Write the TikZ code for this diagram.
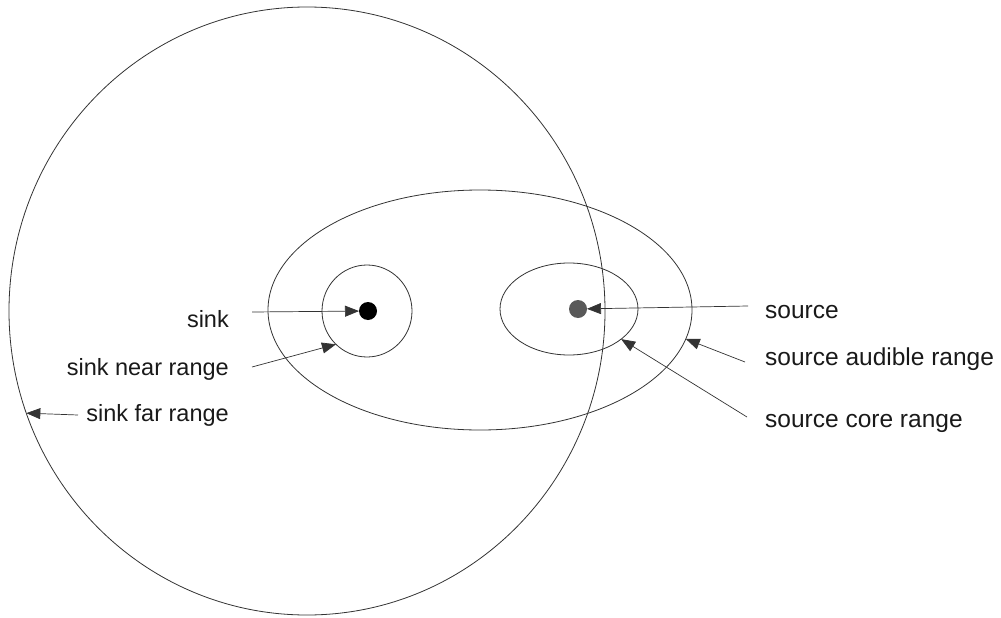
\documentclass[tikz,border=0pt]{standalone}
\usepackage{fontspec}
\setmainfont{Liberation Sans}
\usetikzlibrary{shapes.geometric,arrows.meta}
\begin{document}
\begin{tikzpicture}[x=1pt,y=-1pt,
  rangeline/.style={draw=black!80,line width=0.8pt,ellipse,inner sep=0pt,outer sep=0pt},
  pointer/.style={draw=black!80,line width=0.7pt,-{Triangle[length=14pt,width=11pt]}},
  dotnode/.style={circle,inner sep=0pt,outer sep=0pt,minimum size=18pt},
  lbl/.style={font=\fontsize{23.5}{28}\selectfont,inner sep=0pt,text=black!90},
  rlbl/.style={font=\fontsize{24.5}{29}\selectfont,inner sep=0pt,text=black!90}]
\useasboundingbox (0,0) rectangle (1001,618);
% ranges
\node[rangeline,minimum width=596pt,minimum height=608pt] (far) at (307,311) {};
\node[rangeline,minimum width=424pt,minimum height=240pt] (audible) at (480,310) {};
\node[rangeline,minimum width=90pt,minimum height=92pt] (near) at (367,311) {};
\node[rangeline,minimum width=138pt,minimum height=92pt] (core) at (569,309) {};
% points
\node[dotnode,fill=black] (sinkdot) at (368,311) {};
\node[dotnode,fill=black!65] (srcdot) at (578,309) {};
% labels
\node[lbl,anchor=base east] (sinklbl) at (229,327) {sink};
\node[lbl,anchor=base east] (nearlbl) at (229,375) {sink near range};
\node[lbl,anchor=base east] (farlbl) at (229,421) {sink far range};
\node[rlbl,anchor=base west] (srclbl) at (765,318) {source};
\node[rlbl,anchor=base west] (audlbl) at (765,365) {source audible range};
\node[rlbl,anchor=base west] (corelbl) at (765,427) {source core range};
% connector starts
\coordinate (sinkstart) at (252,312);
\coordinate (nearstart) at (252,367);
\coordinate (farstart) at (78,415);
\coordinate (srcstart) at (748,306);
\coordinate (audstart) at (745,362);
\coordinate (corestart) at (747,417);
% connectors
\draw[pointer] (sinkstart) -- (sinkdot);
\draw[pointer] (nearstart) -- (near.227);
\draw[pointer] (farstart) -- (far.200.4);
\draw[pointer] (srcstart) -- (srcdot);
\draw[pointer] (audstart) -- (audible.352.9);
\draw[pointer] (corestart) -- (core.330.1);
\end{tikzpicture}
\end{document}
